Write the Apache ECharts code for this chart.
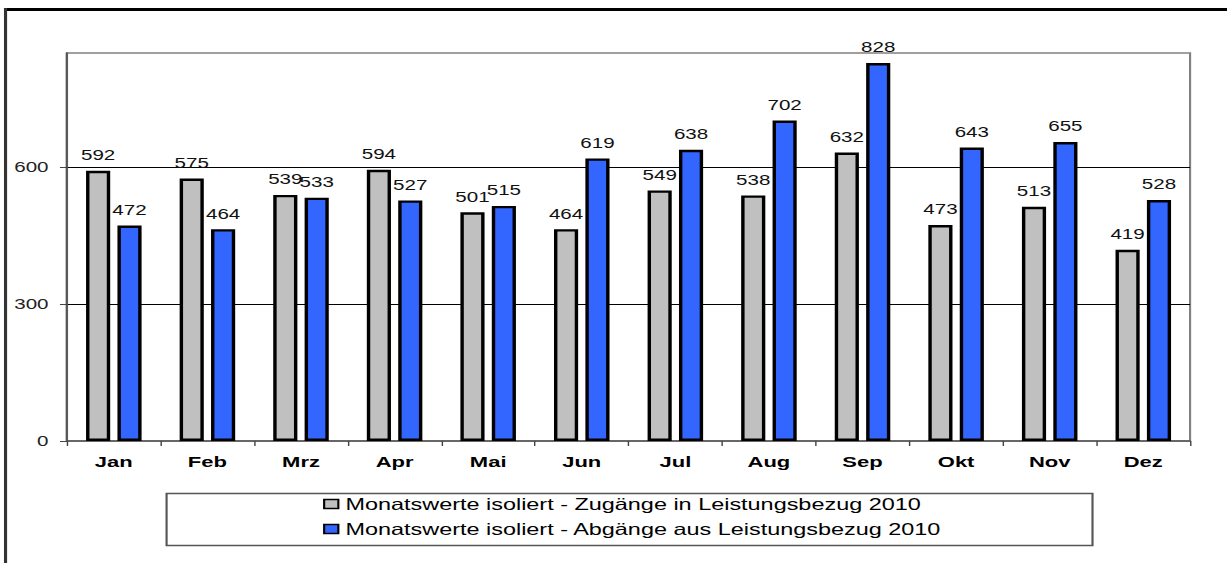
<!DOCTYPE html>
<html><head><meta charset="utf-8">
<script src="https://cdn.jsdelivr.net/npm/echarts@6/dist/echarts.min.js"></script>
<style>
html,body{margin:0;padding:0;background:#fff;overflow:hidden;}
#wrap{width:1227px;height:563px;overflow:hidden;position:relative;}
#chart{width:864px;height:563px;transform:scaleX(1.42014);transform-origin:0 0;}
</style></head><body><div id="wrap"><div id="chart"></div></div>
<script>
const categories = ['Jan','Feb','Mrz','Apr','Mai','Jun','Jul','Aug','Sep','Okt','Nov','Dez'];
const zugaenge = [592,575,539,594,501,464,549,538,632,473,513,419];
const abgaenge = [472,464,533,527,515,619,638,702,828,643,655,528];
const seriesNames = ['Monatswerte isoliert - Zugänge in Leistungsbezug 2010','Monatswerte isoliert - Abgänge aus Leistungsbezug 2010'];
const yTicks = [0,300,600];
const yMax = 850;
const yInterval = 300;

const FONT = "'Liberation Sans', Arial, sans-serif";
const chart = echarts.init(document.getElementById('chart'), null, {renderer:'svg'});
const labelCfg = {show:true, position:'top', distance:8, fontSize:14.5, color:'#111', fontFamily:FONT};
chart.setOption({
  animation:false,
  backgroundColor:'#fff',
  grid:{left:47.2, right:26, top:53, bottom:122, show:true, borderColor:'#808080', borderWidth:1.5, backgroundColor:'transparent'},
  xAxis:{type:'category', data:categories,
    axisLine:{lineStyle:{color:'#555', width:1.5}},
    axisTick:{show:true, alignWithLabel:false, length:5, lineStyle:{color:'#444', width:1}},
    axisLabel:{fontSize:15.5, fontWeight:'bold', color:'#000', fontFamily:FONT, margin:13},
    splitLine:{show:false}},
  yAxis:{type:'value', min:yTicks[0], max:yMax, interval:yInterval,
    axisLine:{show:true, lineStyle:{color:'#555', width:1.5}},
    axisTick:{show:true, length:5, lineStyle:{color:'#444'}},
    axisLabel:{fontSize:14.5, color:'#222', fontFamily:FONT, margin:13, showMaxLabel:false,
      formatter:function(v){return yTicks.indexOf(v)>=0 ? String(v) : '';}},
    splitLine:{show:true, showMinLine:false, showMaxLine:false, lineStyle:{color:'#000', width:1}}},
  legend:{orient:'vertical', left:227.5, top:494, padding:0, itemGap:5, itemWidth:10, itemHeight:9,
    icon:'rect',
    itemStyle:{borderColor:'#000', borderWidth:1.5},
    textStyle:{fontSize:16.5, color:'#000', fontFamily:FONT, lineHeight:20},
    data:seriesNames},
  series:[
    {name:seriesNames[0], type:'bar', data:zugaenge, barWidth:17, barGap:'30%',
      itemStyle:{color:'#C0C0C0', borderColor:'#000', borderWidth:2.4}, label:labelCfg},
    {name:seriesNames[1], type:'bar', data:abgaenge, barWidth:17, barGap:'30%',
      itemStyle:{color:'#3366FF', borderColor:'#000', borderWidth:2.4}, label:labelCfg}
  ],
  graphic:[
    {type:'rect', left:114.8, top:491, shape:{x:0,y:0,width:652,height:52}, style:{fill:'none', stroke:'#555', lineWidth:1.5}, silent:true},
    {type:'rect', shape:{x:2.8,y:8,width:870,height:3}, style:{fill:'#000'}, silent:true},
    {type:'rect', shape:{x:2.8,y:8,width:2.2,height:560}, style:{fill:'#333'}, silent:true}
  ]
});
</script></body></html>
